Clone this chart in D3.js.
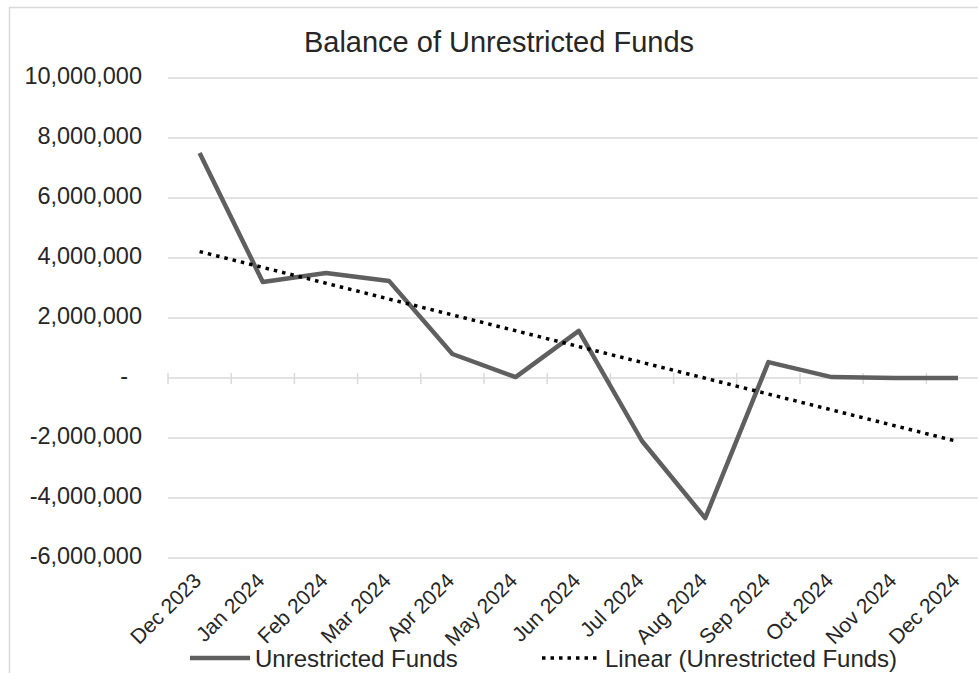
<!DOCTYPE html>
<html>
<head>
<meta charset="utf-8">
<script src="https://cdn.jsdelivr.net/npm/d3@7/dist/d3.min.js"></script>
<style>
  html, body { margin: 0; padding: 0; background: #fff; }
  svg { display: block; font-family: "Liberation Sans", Arial, sans-serif; }
</style>
</head>
<body>
<svg id="chart" width="978" height="673"></svg>
<script>
// Month-end balances of unrestricted funds
const months = ["Dec 2023", "Jan 2024", "Feb 2024", "Mar 2024", "Apr 2024", "May 2024", "Jun 2024",
                "Jul 2024", "Aug 2024", "Sep 2024", "Oct 2024", "Nov 2024", "Dec 2024"];
const balances = [7500000, 3200000, 3500000, 3230000, 800000, 30000, 1570000,
                  -2100000, -4670000, 530000, 30000, 0, 0];
const yTicks = [-6000000, -4000000, -2000000, 0, 2000000, 4000000, 6000000, 8000000, 10000000];
const seriesName = "Unrestricted Funds";
const trendName = "Linear (Unrestricted Funds)";
const titleText = "Balance of Unrestricted Funds";

const svg = d3.select("#chart");
const W = 978, H = 673;
const textColor = "#262626";
const gridColor = "#d9d9d9";

// chart frame
svg.append("path")
  .attr("d", `M9.5,${H} V7.5 H${W}`)
  .attr("fill", "none").attr("stroke", "#d9d9d9").attr("stroke-width", 1.5);

const x = d3.scaleBand().domain(months).range([168, 989.6]).paddingInner(0).paddingOuter(0);
const cx = m => x(m) + x.bandwidth() / 2;
const y = d3.scaleLinear().domain([-6000000, 10000000]).range([558, 78]);

// horizontal gridlines
svg.append("g").selectAll("line").data(yTicks).join("line")
  .attr("x1", 168).attr("x2", W)
  .attr("y1", d => y(d)).attr("y2", d => y(d))
  .attr("stroke", gridColor).attr("stroke-width", 1.5);

// y axis labels (accounting style: zero shown as a dash)
const fmt = d3.format(",");
svg.append("g").selectAll("text").data(yTicks).join("text")
  .attr("x", d => d === 0 ? 128 : 142)
  .attr("y", d => y(d) - 2)
  .attr("dy", "0.36em")
  .attr("text-anchor", "end")
  .attr("font-size", 23.5)
  .attr("fill", textColor)
  .text(d => d === 0 ? "-" : fmt(d).replace("−", "-"));

// category tick marks on the zero line
const bounds = months.map(m => x(m));
svg.append("g").selectAll("line").data(bounds).join("line")
  .attr("x1", d => d).attr("x2", d => d)
  .attr("y1", y(0) - 5).attr("y2", y(0) + 6)
  .attr("stroke", gridColor).attr("stroke-width", 1.5);

// x axis labels, rotated
svg.append("g").selectAll("text").data(months).join("text")
  .attr("transform", d => `translate(${cx(d) + 3},${582}) rotate(-45)`)
  .attr("text-anchor", "end")
  .attr("font-size", 21)
  .attr("fill", textColor)
  .text(d => d);

// least-squares linear trend
const n = balances.length;
const idx = d3.range(n);
const mx = d3.mean(idx), my = d3.mean(balances);
const slope = d3.sum(idx, i => (i - mx) * (balances[i] - my)) / d3.sum(idx, i => (i - mx) ** 2);
const intercept = my - slope * mx;
const trend = [0, n - 1].map(i => ({ m: months[i], v: intercept + slope * i }));

// data line
const line = d3.line().x(d => cx(d.m)).y(d => y(d.v));
svg.append("path")
  .datum(months.map((m, i) => ({ m, v: balances[i] })))
  .attr("d", line)
  .attr("fill", "none").attr("stroke", "#5f5f5f").attr("stroke-width", 4.5)
  .attr("stroke-linejoin", "round");

// trendline
svg.append("path")
  .datum(trend)
  .attr("d", line)
  .attr("fill", "none").attr("stroke", "#000").attr("stroke-width", 3.5)
  .attr("stroke-dasharray", "3.5 5");

// title
svg.append("text")
  .attr("x", 499).attr("y", 52)
  .attr("text-anchor", "middle")
  .attr("font-size", 29)
  .attr("fill", textColor)
  .text(titleText);

// legend
const lg = svg.append("g");
lg.append("line").attr("x1", 190).attr("x2", 250).attr("y1", 658).attr("y2", 658)
  .attr("stroke", "#5f5f5f").attr("stroke-width", 4.5);
lg.append("text").attr("x", 255).attr("y", 666.5).attr("font-size", 24).attr("fill", textColor).text(seriesName);
lg.append("line").attr("x1", 542).attr("x2", 598).attr("y1", 658).attr("y2", 658)
  .attr("stroke", "#000").attr("stroke-width", 3.5).attr("stroke-dasharray", "3.5 5");
lg.append("text").attr("x", 605).attr("y", 666.5).attr("font-size", 24).attr("fill", textColor).text(trendName);
</script>
</body>
</html>
